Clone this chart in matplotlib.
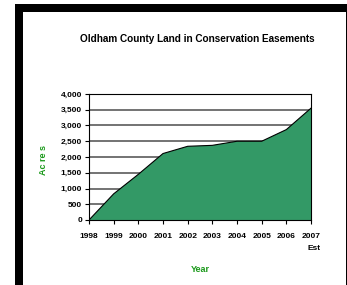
import matplotlib
matplotlib.use("Agg")
import matplotlib.pyplot as plt
from matplotlib.patches import Rectangle
from matplotlib.ticker import FuncFormatter

years = ["1998", "1999", "2000", "2001", "2002", "2003", "2004", "2005", "2006", "2007\nEst"]
acres = [0, 830, 1450, 2110, 2340, 2370, 2500, 2500, 2870, 3550]

W, H = 347, 285
plt.rcParams["font.family"] = ["Liberation Sans", "DejaVu Sans"]

fig = plt.figure(figsize=(W / 100, H / 100), dpi=100)


def frac(x0, y0, x1, y1):
    # pixel box (top-left origin) -> figure fraction rectangle args
    return (x0 / W, 1 - y1 / H), (x1 - x0) / W, (y1 - y0) / H


# black frame round the chart
for box in [(15, 4, 347, 12), (15, 4, 22.5, 285), (345.5, 4, 347, 285)]:
    xy, w, h = frac(*box)
    fig.add_artist(Rectangle(xy, w, h, transform=fig.transFigure,
                             facecolor="black", edgecolor="none"))

ax = fig.add_axes([89 / W, 1 - 220 / H, (311 - 89) / W, (220 - 94) / H])
x = list(range(len(years)))
ax.fill_between(x, acres, 0, facecolor="#339966", edgecolor="none", zorder=2)
ax.plot(x, acres, color="black", lw=0.8, zorder=3)

ax.set_xlim(0, len(years) - 1)
ax.set_ylim(0, 4000)
ax.set_yticks(range(0, 4001, 500))
ax.yaxis.set_major_formatter(FuncFormatter(lambda v, p: f"{int(v):,}"))
ax.set_xticks(x)
ax.set_xticklabels(years)
ax.grid(axis="y", color="#4d4d4d", lw=1.1, zorder=1)
ax.set_axisbelow(True)

for side in ["top", "right", "left", "bottom"]:
    ax.spines[side].set_color("black")
    ax.spines[side].set_linewidth(0.8)

ax.tick_params(axis="both", labelsize=6, length=3, width=0.8, colors="black", pad=2)
for lab in ax.get_xticklabels() + ax.get_yticklabels():
    lab.set_fontweight("bold")
ax.tick_params(axis="x", pad=6)
last = ax.get_xticklabels()[-1]
last.set_horizontalalignment("center")
last.set_multialignment("right")
last.set_linespacing(2.0)

fig.text(197 / W, 1 - 39 / H, "Oldham County Land in Conservation Easements",
         ha="center", va="center", fontsize=7.2, fontweight="bold")
fig.text(44 / W, 1 - 160 / H, "Ac re s", rotation=90, ha="center", va="center",
         fontsize=6.5, fontweight="bold", color="#1a991a")
fig.text(200 / W, 1 - 270 / H, "Year", ha="center", va="center",
         fontsize=6.5, fontweight="bold", color="#1a991a")

fig.savefig("out.png", dpi=100)
